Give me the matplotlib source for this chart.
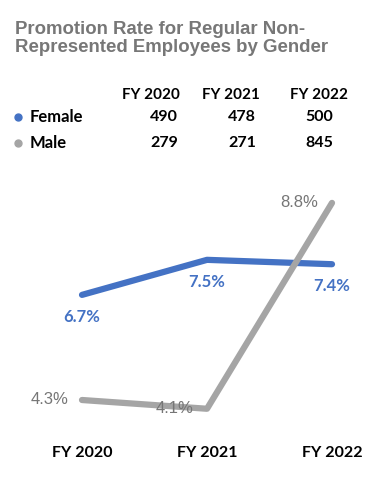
import matplotlib.pyplot as plt
from matplotlib.lines import Line2D

years = ["FY 2020", "FY 2021", "FY 2022"]
female_rate = [6.7, 7.5, 7.4]
male_rate = [4.3, 4.1, 8.8]
female_count = [490, 478, 500]
male_count = [279, 271, 845]

blue = "#4472C4"
gray = "#A5A5A5"
gray_text = "#767676"

W, H = 388, 478
fig = plt.figure(figsize=(W / 100, H / 100), dpi=100)


def fx(px):
    return px / W


def fy(py):
    return 1 - py / H


# title
fig.text(fx(15), fy(21), "Promotion Rate for Regular Non-\nRepresented Employees by Gender",
         ha="left", va="top", fontsize=13.4, fontweight="bold", color="#777777",
         family="Liberation Sans", linespacing=1.1)

# small table of headcounts
col_right = [180, 260, 348]
for x, y in zip(col_right, years):
    fig.text(fx(x), fy(95), y, ha="right", va="center", fontsize=11,
             fontweight="bold", family="Lato", color="black")
rows = [("Female", female_count, blue, 117), ("Male", male_count, gray, 143)]
for name, counts, col, y in rows:
    fig.add_artist(Line2D([fx(18)], [fy(y)], marker="o", markersize=5, color=col,
                          transform=fig.transFigure))
    fig.text(fx(30), fy(y), name, ha="left", va="center", fontsize=12,
             fontweight="bold", family="Lato", color="black")
    for x, c in zip([178, 256, 333], counts):
        fig.text(fx(x), fy(y), str(c), ha="right", va="center", fontsize=11.5,
                 fontweight="bold", family="Lato", color="black")

# line chart
ax = fig.add_axes([0, fy(430), 1, fy(180) - fy(430)])
xs = list(range(len(years)))
ax.plot(xs, female_rate, color=blue, lw=4.5, solid_capstyle="round")
ax.plot(xs, male_rate, color=gray, lw=4.5, solid_capstyle="round")
ax.set_xlim(-82 / 125, (W - 82) / 125)
ax.set_ylim(4.3 - 30 / 43.8, 4.3 + 220 / 43.8)
ax.axis("off")

for i, v in enumerate(female_rate):
    ax.annotate(f"{v}%", (i, v), xytext=(0, -16), textcoords="offset points",
                ha="center", va="center", fontsize=12, fontweight="bold",
                family="Lato", color=blue)
for i, v in enumerate(male_rate):
    ax.annotate(f"{v}%", (i, v), xytext=(-10, 0), textcoords="offset points",
                ha="right", va="center", fontsize=12, family="Liberation Sans",
                color=gray_text)

for i, y in enumerate(years):
    ax.text(i, -16 / 250, y, transform=ax.get_xaxis_transform(), ha="center", va="top",
            fontsize=11.5, fontweight="bold", family="Lato", color="black")

fig.savefig("out.png", dpi=100)
